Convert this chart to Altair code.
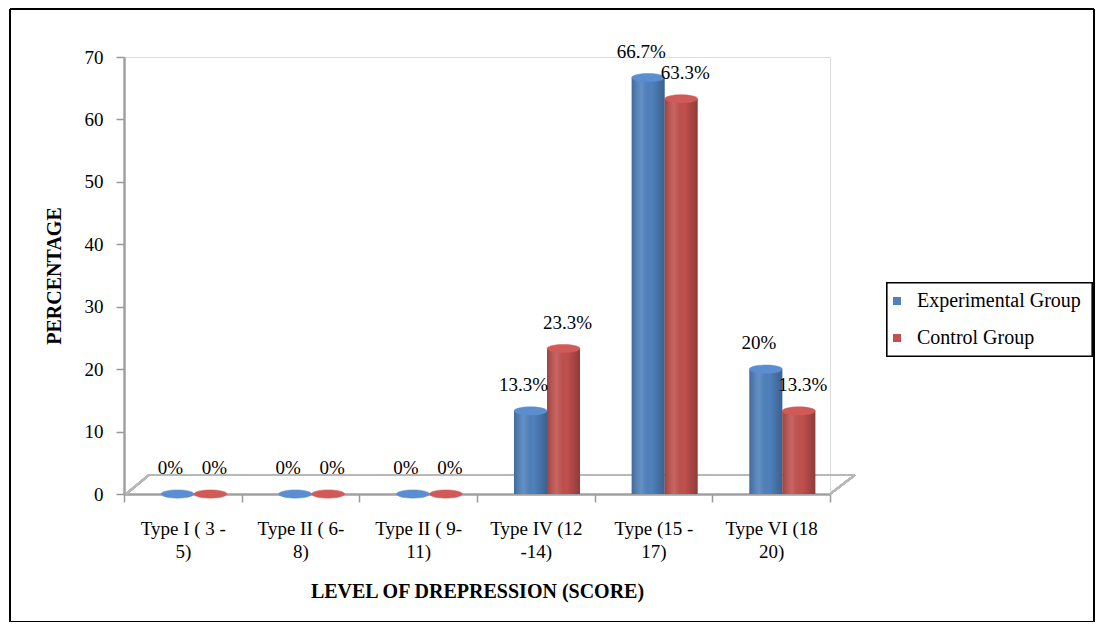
import altair as alt
import pandas as pd

categories = ["Type I ( 3 -|5)", "Type II ( 6-|8)", "Type II ( 9-|11)",
              "Type IV (12|-14)", "Type (15 -|17)", "Type VI (18|20)"]
groups = ["Experimental Group", "Control Group"]
experimental = [0, 0, 0, 13.3, 66.7, 20]
control = [0, 0, 0, 23.3, 63.3, 13.3]
exp_labels = ["0%", "0%", "0%", "13.3%", "66.7%", "20%"]
ctrl_labels = ["0%", "0%", "0%", "23.3%", "63.3%", "13.3%"]
colors = ["#4F81BD", "#C0504D"]
cap_colors = ["#5B8ED0", "#D05A57"]

rows = []
for c, v, l in zip(categories, experimental, exp_labels):
    rows.append({"category": c, "group": groups[0], "value": v, "label": l})
for c, v, l in zip(categories, control, ctrl_labels):
    rows.append({"category": c, "group": groups[1], "value": v, "label": l})
df = pd.DataFrame(rows)

FONT = "Times New Roman"
W, H = 706, 437

x_enc = alt.X("category:N", sort=categories,
              scale=alt.Scale(paddingInner=0, paddingOuter=0),
              axis=alt.Axis(title="LEVEL OF DREPRESSION  (SCORE)",
                            labelExpr="split(datum.label, '|')",
                            labelAngle=0, tickBand="extent",
                            labelFont=FONT, labelFontSize=19, labelColor="#000",
                            labelLineHeight=23, labelPadding=17,
                            tickSize=8, tickColor="#999", tickWidth=1.5,
                            domainColor="#A0A0A0", domainWidth=2.5,
                            titleFont=FONT, titleFontSize=20, titleFontWeight="bold",
                            titleColor="#000", titlePadding=20))
y_scale = alt.Scale(domain=[0, 70], nice=False)
y_enc = alt.Y("value:Q", scale=y_scale,
              axis=alt.Axis(title="PERCENTAGE", values=list(range(0, 71, 10)),
                            grid=False, labelFont=FONT, labelFontSize=19,
                            labelColor="#000", labelPadding=13,
                            tickSize=8, tickColor="#999", tickWidth=1.5,
                            domainColor="#A0A0A0", domainWidth=2.5,
                            titleFont=FONT, titleFontSize=20, titleFontWeight="bold",
                            titleColor="#000", titlePadding=20))
off_enc = alt.XOffset("group:N", sort=groups,
                      scale=alt.Scale(range=[37, 103], paddingInner=0, paddingOuter=0))
x_plain = alt.X("category:N", sort=categories)

base = alt.Chart(df)

bars = base.mark_bar().encode(
    x=x_enc, y=y_enc, xOffset=off_enc,
    color=alt.Color("group:N", sort=groups,
                    scale=alt.Scale(domain=groups, range=colors),
                    legend=alt.Legend(title=None, orient="none", legendX=757, legendY=228,
                                      labelFont=FONT, labelFontSize=20, labelColor="#000",
                                      symbolType="square", symbolSize=64,
                                      symbolStrokeWidth=0, padding=6, rowPadding=17,
                                      labelOffset=10, labelLimit=300)))

shade = base.mark_bar(color=alt.Gradient(
    gradient="linear", x1=0, x2=1, y1=0, y2=0,
    stops=[alt.GradientStop(offset=0, color="rgba(0,0,0,0.18)"),
           alt.GradientStop(offset=0.3, color="rgba(255,255,255,0.12)"),
           alt.GradientStop(offset=0.6, color="rgba(0,0,0,0.0)"),
           alt.GradientStop(offset=1, color="rgba(0,0,0,0.25)")])).encode(
    x=x_plain, y="value:Q", xOffset=off_enc)

ellipse = "M -1 0 A 1 0.25 0 1 0 1 0 A 1 0.25 0 1 0 -1 0 Z"
layers = [bars, shade]
dxs_txt = [-7, 4]
for g, cc, dt in zip(groups, cap_colors, dxs_txt):
    sub = base.transform_filter(alt.datum.group == g)
    layers.append(sub.mark_point(shape=ellipse, size=1089, filled=True, opacity=1,
                                 color=cc, stroke=cc, strokeWidth=0.5).encode(
        x=x_plain, y="value:Q", xOffset=off_enc))
    layers.append(sub.mark_text(font=FONT, fontSize=19, color="#000", dx=dt, dy=-20,
                                baseline="alphabetic").encode(
        x=x_plain, y="value:Q", xOffset=off_enc, text="label:N"))

# 3-D floor outline (decoration)
floor_col = "#B8B8B8"
floor = [
    alt.Chart(df).mark_rule(color=floor_col, strokeWidth=2).encode(
        x=alt.value(25), x2=alt.value(W + 25), y=alt.value(H - 19)),
    alt.Chart(df).mark_rule(color=floor_col, strokeWidth=2).encode(
        x=alt.value(2), x2=alt.value(25), y=alt.value(H), y2=alt.value(H - 19)),
    alt.Chart(df).mark_rule(color=floor_col, strokeWidth=2).encode(
        x=alt.value(W), x2=alt.value(W + 25), y=alt.value(H), y2=alt.value(H - 19)),
]
border = alt.Chart(df).mark_rect(fill=None, stroke="#000", strokeWidth=1).encode(
    x=alt.value(-114), x2=alt.value(970), y=alt.value(-48), y2=alt.value(565))
legend_box = alt.Chart(df).mark_rect(fill="#fff", stroke="#000", strokeWidth=1.2).encode(
    x=alt.value(763), x2=alt.value(968), y=alt.value(226), y2=alt.value(299))

chart = alt.layer(border, legend_box, *floor, *layers).properties(
    width=W, height=H,
    autosize=alt.AutoSizeParams(type="none"),
    padding={"left": 116, "top": 49, "right": 265, "bottom": 128},
).configure_view(stroke=None).configure(background="#fff", font=FONT)

chart.save("out.html", embed_options={"renderer": "svg", "actions": False})
